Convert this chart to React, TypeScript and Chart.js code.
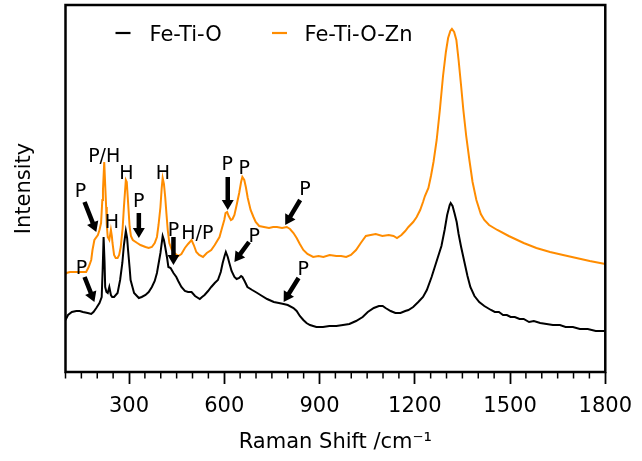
import React, { useEffect, useRef } from 'react';
import { Chart, registerables } from 'chart.js';

Chart.register(...registerables);

// Raman shift (cm^-1) and intensity (a.u.) for each sample
const SHIFT_FE_TI_O = [100, 108, 120, 134, 145, 155, 170, 181, 188, 197, 207, 214, 217, 220, 223, 225, 229, 233, 238, 243, 247, 253, 264, 272, 279, 284, 290, 294, 297, 302, 305, 316, 331, 340, 352, 362, 372, 381, 388, 399, 406, 410, 414, 420, 424, 431, 440, 449, 455, 465, 476, 486, 497, 508, 523, 530, 538, 549, 559, 570, 580, 589, 595, 601, 605, 611, 616, 623, 632, 639, 647, 653, 657, 664, 673, 688, 704, 714, 735, 756, 772, 787, 800, 818, 828, 838, 849, 859, 870, 890, 911, 931, 953, 974, 994, 1015, 1036, 1052, 1071, 1087, 1099, 1108, 1124, 1139, 1155, 1170, 1180, 1195, 1211, 1226, 1238, 1253, 1266, 1284, 1294, 1302, 1310, 1313, 1319, 1325, 1332, 1338, 1346, 1357, 1366, 1375, 1388, 1403, 1419, 1440, 1452, 1465, 1478, 1490, 1502, 1515, 1530, 1543, 1560, 1575, 1595, 1615, 1635, 1657, 1675, 1698, 1720, 1745, 1770, 1800];
const INT_FE_TI_O = [52, 57, 60, 61, 61, 60, 59, 58, 60, 64, 69, 75, 102, 135, 110, 85, 80, 79, 85, 77, 75, 75, 79, 92, 109, 127, 141, 134, 122, 104, 92, 79, 74, 75, 77, 80, 85, 91, 99, 119, 136, 132, 125, 114, 105, 104, 99, 95, 91, 85, 81, 80, 80, 76, 73, 75, 77, 81, 85, 89, 92, 100, 109, 116, 120, 115, 109, 101, 95, 93, 94, 96, 95, 91, 85, 82, 79, 77, 73, 70, 69, 68, 67, 64, 61, 56, 52, 49, 47, 45, 45, 46, 46, 47, 48, 51, 55, 60, 64, 66, 66, 64, 61, 59, 59, 61, 62, 65, 70, 75, 82, 95, 108, 126, 142, 157, 167, 169, 166, 159, 150, 138, 125, 109, 96, 85, 76, 70, 66, 62, 60, 60, 57, 57, 55, 55, 53, 53, 50, 51, 49, 48, 47, 47, 45, 45, 43, 43, 41, 41];

const SHIFT_FE_TI_O_ZN = [100, 103, 114, 134, 151, 165, 173, 181, 185, 191, 202, 207, 212, 216, 218, 222, 225, 228, 230, 233, 238, 243, 246, 248, 253, 258, 264, 269, 274, 280, 284, 290, 293, 296, 302, 306, 312, 326, 336, 352, 362, 372, 381, 388, 393, 399, 403, 406, 410, 414, 418, 422, 427, 435, 443, 455, 465, 476, 486, 497, 504, 512, 521, 533, 545, 559, 570, 585, 592, 600, 604, 609, 614, 621, 626, 632, 639, 647, 653, 657, 663, 668, 674, 683, 692, 699, 710, 725, 741, 754, 766, 782, 797, 807, 818, 828, 838, 849, 862, 880, 897, 912, 932, 953, 968, 984, 999, 1015, 1030, 1046, 1061, 1077, 1098, 1118, 1133, 1144, 1158, 1170, 1180, 1195, 1206, 1217, 1226, 1232, 1243, 1251, 1259, 1269, 1279, 1289, 1298, 1305, 1312, 1317, 1324, 1331, 1338, 1346, 1353, 1362, 1372, 1382, 1394, 1408, 1419, 1434, 1460, 1496, 1543, 1583, 1626, 1667, 1709, 1751, 1800];
const INT_FE_TI_O_ZN = [98, 99, 100, 100, 100, 100, 105, 112, 122, 132, 137, 142, 149, 172, 182, 210, 187, 165, 147, 135, 132, 142, 136, 129, 117, 114, 114, 117, 125, 144, 165, 192, 190, 175, 145, 136, 132, 129, 127, 125, 124, 125, 129, 135, 147, 165, 184, 194, 188, 175, 158, 142, 129, 122, 119, 116, 118, 124, 128, 132, 127, 120, 117, 115, 119, 122, 127, 135, 143, 152, 159, 160, 156, 152, 153, 157, 167, 179, 190, 195, 192, 185, 174, 162, 155, 150, 146, 145, 144, 145, 145, 144, 145, 143, 139, 134, 128, 122, 118, 115, 116, 115, 117, 116, 116, 115, 117, 122, 129, 136, 137, 138, 136, 137, 136, 134, 137, 141, 145, 150, 155, 162, 170, 176, 184, 196, 210, 232, 262, 296, 320, 334, 341, 343, 340, 332, 312, 286, 262, 236, 212, 190, 172, 158, 152, 147, 142, 136, 129, 124, 120, 117, 114, 111, 108];

const X_MIN = 100;
const X_MAX = 1800;
const X_MAJOR_TICKS = [300, 600, 900, 1200, 1500, 1800];
const X_MINOR_STEP = 50;
const Y_MIN = 0;
const Y_MAX = 367;

// Peak annotations (text at shift/intensity)
const NOTE_TEXT = ['P', 'P/H', 'H', 'H', 'H', 'P', 'P', 'H/P', 'P', 'P', 'P', 'P', 'P', 'P'];
const NOTE_SHIFT = [147, 222, 246, 292, 407, 331, 440, 515, 150, 609, 663, 694, 854, 849];
const NOTE_INT = [182, 217, 151, 200, 200, 172, 143, 140, 105, 209, 205, 137, 184, 104];

// Arrows (tail -> head) in shift/intensity
const ARROW_FROM_SHIFT = [160, 331, 440, 160, 611, 678, 839, 834];
const ARROW_FROM_INT = [170, 159, 135, 95, 195, 130, 172, 94];
const ARROW_TO_SHIFT = [197, 331, 440, 191, 611, 632, 792, 787];
const ARROW_TO_INT = [140, 134, 107, 70, 162, 110, 147, 70];

const FONT = '"DejaVu Sans", "Liberation Sans", sans-serif';
const BLACK = '#000000';
const ORANGE = '#ff8c00';
const AXIS_FONT_SIZE = 21;

function drawArrow(ctx: CanvasRenderingContext2D, x1: number, y1: number, x2: number, y2: number) {
  const dx = x2 - x1;
  const dy = y2 - y1;
  const len = Math.hypot(dx, dy);
  const ux = dx / len;
  const uy = dy / len;
  const nx = -uy;
  const ny = ux;
  const shaft = 4.5;
  const headW = 12;
  const headL = 10;
  const bx = x2 - ux * headL;
  const by = y2 - uy * headL;
  ctx.beginPath();
  ctx.moveTo(x1 + nx * shaft / 2, y1 + ny * shaft / 2);
  ctx.lineTo(bx + nx * shaft / 2, by + ny * shaft / 2);
  ctx.lineTo(bx + nx * headW / 2, by + ny * headW / 2);
  ctx.lineTo(x2, y2);
  ctx.lineTo(bx - nx * headW / 2, by - ny * headW / 2);
  ctx.lineTo(bx - nx * shaft / 2, by - ny * shaft / 2);
  ctx.lineTo(x1 - nx * shaft / 2, y1 - ny * shaft / 2);
  ctx.closePath();
  ctx.fill();
}

const overlayPlugin = {
  id: 'overlay',
  afterDraw(chart: any) {
    const { ctx, chartArea: a, scales } = chart;
    const xs = scales.x;
    const ys = scales.y;
    ctx.save();
    ctx.strokeStyle = BLACK;
    ctx.fillStyle = BLACK;

    // minor ticks
    ctx.lineWidth = 1.5;
    for (let v = X_MIN; v <= X_MAX; v += X_MINOR_STEP) {
      if (X_MAJOR_TICKS.includes(v)) continue;
      const px = xs.getPixelForValue(v);
      ctx.beginPath();
      ctx.moveTo(px, a.bottom);
      ctx.lineTo(px, a.bottom + 6.5);
      ctx.stroke();
    }

    // frame
    ctx.lineWidth = 2.5;
    ctx.strokeRect(a.left, a.top, a.right - a.left, a.bottom - a.top);

    // annotations
    const fs = 19;
    ctx.font = `${fs}px ${FONT}`;
    ctx.textAlign = 'center';
    ctx.textBaseline = 'alphabetic';
    for (let i = 0; i < NOTE_TEXT.length; i++) {
      const px = xs.getPixelForValue(NOTE_SHIFT[i]);
      const py = ys.getPixelForValue(NOTE_INT[i]);
      ctx.fillText(NOTE_TEXT[i], px, py + fs * 0.365);
    }
    for (let i = 0; i < ARROW_FROM_SHIFT.length; i++) {
      drawArrow(
        ctx,
        xs.getPixelForValue(ARROW_FROM_SHIFT[i]),
        ys.getPixelForValue(ARROW_FROM_INT[i]),
        xs.getPixelForValue(ARROW_TO_SHIFT[i]),
        ys.getPixelForValue(ARROW_TO_INT[i])
      );
    }

    // legend
    const lfs = AXIS_FONT_SIZE;
    ctx.font = `${lfs}px ${FONT}`;
    ctx.textAlign = 'left';
    const ly = a.top + 28;
    const items = chart.data.datasets;
    const handleX = [a.left + 50, a.left + 206.5];
    const textX = [a.left + 84, a.left + 239];
    for (let i = 0; i < items.length; i++) {
      ctx.strokeStyle = items[i].borderColor;
      ctx.lineWidth = 2.2;
      ctx.beginPath();
      ctx.moveTo(handleX[i], ly);
      ctx.lineTo(handleX[i] + 15, ly);
      ctx.stroke();
      ctx.fillStyle = BLACK;
      ctx.fillText(items[i].label, textX[i], ly + lfs * 0.365);
    }
    ctx.restore();
  },
};

export default function App() {
  const canvasRef = useRef<HTMLCanvasElement | null>(null);

  useEffect(() => {
    const canvas = canvasRef.current;
    if (!canvas) return;
    const chart = new Chart(canvas, {
      type: 'line',
      data: {
        datasets: [
          {
            label: 'Fe-Ti-O',
            data: SHIFT_FE_TI_O.map((s, i) => ({ x: s, y: INT_FE_TI_O[i] })),
            borderColor: BLACK,
            backgroundColor: BLACK,
            borderWidth: 2,
            pointRadius: 0,
            tension: 0,
            fill: false,
          },
          {
            label: 'Fe-Ti-O-Zn',
            data: SHIFT_FE_TI_O_ZN.map((s, i) => ({ x: s, y: INT_FE_TI_O_ZN[i] })),
            borderColor: ORANGE,
            backgroundColor: ORANGE,
            borderWidth: 2,
            pointRadius: 0,
            tension: 0,
            fill: false,
          },
        ],
      },
      options: {
        animation: false,
        responsive: false,
        events: [],
        layout: { padding: { top: 5, right: 29.5, left: 0, bottom: 0 } },
        plugins: {
          legend: { display: false },
          tooltip: { enabled: false },
        },
        scales: {
          x: {
            type: 'linear',
            min: X_MIN,
            max: X_MAX,
            afterBuildTicks: (s: any) => {
              s.ticks = X_MAJOR_TICKS.map((v) => ({ value: v }));
            },
            afterFit: (s: any) => {
              s.height = 89;
            },
            grid: {
              display: true,
              drawOnChartArea: false,
              drawTicks: true,
              tickLength: 12,
              tickColor: BLACK,
              tickWidth: 1.8,
            },
            border: { display: false },
            ticks: {
              color: BLACK,
              font: { family: FONT, size: AXIS_FONT_SIZE },
              padding: 10,
              maxRotation: 0,
              autoSkip: false,
              callback: (v: any) => String(v),
            },
            title: {
              display: true,
              text: 'Raman Shift /cm⁻¹',
              color: BLACK,
              font: { family: FONT, size: AXIS_FONT_SIZE },
              padding: { top: 0, bottom: 5.5 },
            },
          },
          y: {
            type: 'linear',
            min: Y_MIN,
            max: Y_MAX,
            afterFit: (s: any) => {
              s.width = 65.5;
            },
            grid: { display: false, drawTicks: false },
            border: { display: false },
            ticks: { display: false },
            title: {
              display: true,
              text: 'Intensity',
              color: BLACK,
              font: { family: FONT, size: AXIS_FONT_SIZE },
              padding: { top: 12, bottom: 0 },
            },
          },
        },
      },
      plugins: [overlayPlugin],
    } as any);
    return () => chart.destroy();
  }, []);

  return (
    <div style={{ position: 'absolute', left: 0, top: 0, width: 642, height: 461, background: '#fff' }}>
      <canvas ref={canvasRef} width={642} height={461} style={{ display: 'block' }} />
    </div>
  );
}
